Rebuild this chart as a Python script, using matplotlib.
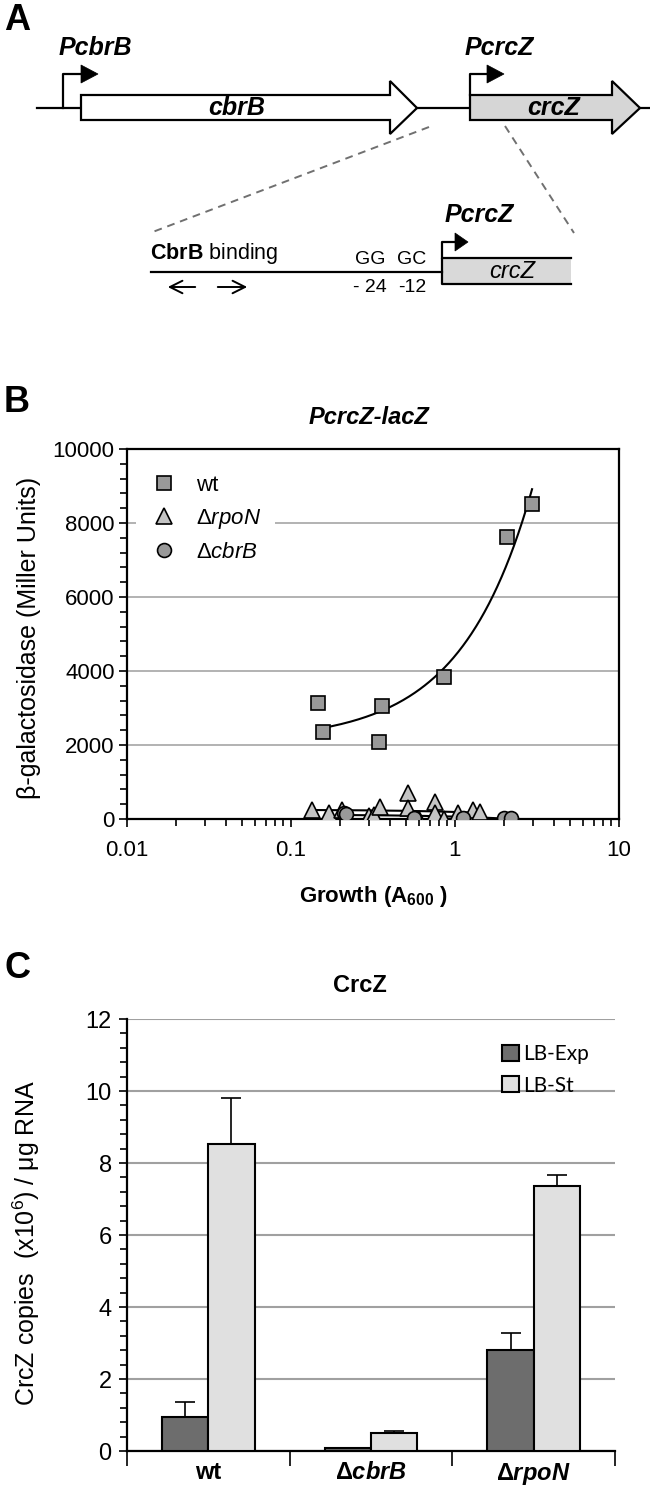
import numpy as np
import matplotlib.pyplot as plt
from matplotlib.patches import Polygon, Rectangle, FancyArrowPatch
from matplotlib.ticker import MultipleLocator, FixedLocator, NullFormatter, FixedFormatter

plt.rcParams['font.family'] = ['Liberation Sans', 'DejaVu Sans']
plt.rcParams['mathtext.fontset'] = 'custom'
plt.rcParams['mathtext.rm'] = 'Liberation Sans'
plt.rcParams['mathtext.it'] = 'Liberation Sans:italic'
plt.rcParams['mathtext.bf'] = 'Liberation Sans:bold'
plt.rcParams['mathtext.bfit'] = 'Liberation Sans:italic:bold'

# ---- panel B data (growth A600 vs beta-galactosidase)
wt_x = [0.146, 0.157, 0.361, 0.344, 0.857, 2.07, 2.95]
wt_y = [3135, 2350, 3054, 2081, 3838, 7622, 8514]
rpoN_x = [0.134, 0.17, 0.205, 0.30, 0.32, 0.35, 0.52, 0.52, 0.60, 0.76, 0.76, 0.86, 1.04, 1.22, 1.28, 1.42]
rpoN_y = [240, 150, 250, 70, 100, 320, 700, 300, 10, 460, 150, 10, 170, 10, 240, 200]
cbrB_x = [0.21, 0.215, 0.56, 1.12, 2.0, 2.2]
cbrB_y = [150, 140, 20, 20, 20, 20]

# ---- panel C data (CrcZ copies x10^6 / ug RNA)
strains = ['wt', r'$\mathbf{\Delta}\mathbfit{cbrB}$', r'$\mathbf{\Delta}\mathbfit{rpoN}$']
exp_vals = [0.94, 0.08, 2.80]
exp_err = [0.42, 0.0, 0.48]
st_vals = [8.53, 0.50, 7.35]
st_err = [1.27, 0.05, 0.32]

W, H = 650, 1500
fig = plt.figure(figsize=(6.5, 15), dpi=100)


def box(l, t, r, b):
    return [l / W, 1 - b / H, (r - l) / W, (b - t) / H]


def fxy(x, y):
    return x / W, 1 - y / H


# ================= Panel A: gene diagram (pixel coords)
ax_a = fig.add_axes(box(0, 0, 650, 330))
ax_a.set_xlim(0, 650)
ax_a.set_ylim(330, 0)
ax_a.axis('off')

lw_a = 1.6
ax_a.plot([37, 650], [108, 108], color='black', lw=lw_a, zorder=1)
ax_a.add_patch(Polygon([(81, 95), (390, 95), (390, 81), (417, 108), (390, 134), (390, 120), (81, 120)],
                       closed=True, facecolor='white', edgecolor='black', lw=lw_a, zorder=2))
ax_a.add_patch(Polygon([(470, 95), (612, 95), (612, 81), (640, 108), (612, 134), (612, 120), (470, 120)],
                       closed=True, facecolor='#d6d6d6', edgecolor='black', lw=lw_a, zorder=2))


def promoter(x, y0, y1, x1, hl, hh):
    ax_a.plot([x, x, x1], [y0, y1, y1], color='black', lw=lw_a, zorder=3)
    ax_a.add_patch(Polygon([(x1, y1 - hh), (x1 + hl, y1), (x1, y1 + hh)], closed=True,
                           facecolor='black', edgecolor='black', lw=0.5, zorder=3))


promoter(63, 108, 74, 81, 17, 9)
promoter(470, 95, 74, 487, 17, 9)

ax_a.text(95, 48, 'PcbrB', fontsize=18, fontweight='bold', style='italic', ha='center', va='center')
ax_a.text(499, 48, 'PcrcZ', fontsize=18, fontweight='bold', style='italic', ha='center', va='center')
ax_a.text(237, 108, 'cbrB', fontsize=18, fontweight='bold', style='italic', ha='center', va='center', zorder=4)
ax_a.text(554, 108, 'crcZ', fontsize=18, fontweight='bold', style='italic', ha='center', va='center', zorder=4)

ax_a.plot([429, 150], [127, 233], color='#707070', lw=1.4, ls=(0, (4, 3)))
ax_a.plot([505, 574], [126, 233], color='#707070', lw=1.4, ls=(0, (4, 3)))

# zoomed promoter region
ax_a.plot([151, 442], [272, 272], color='black', lw=lw_a)
ax_a.add_patch(Rectangle((442, 258), 129, 26, facecolor='#d9d9d9', edgecolor='none'))
ax_a.plot([571, 442, 442, 571], [258, 258, 284, 284], color='black', lw=lw_a)
promoter(442, 258, 242, 455, 13, 9)
ax_a.text(512, 272, 'crcZ', fontsize=17, style='italic', ha='center', va='center')
ax_a.text(479, 215, 'PcrcZ', fontsize=18, fontweight='bold', style='italic', ha='center', va='center')
ax_a.text(150, 253, r'$\mathbf{CbrB}$ binding', fontsize=15.5, ha='left', va='center')
ax_a.text(370, 260, 'GG', fontsize=14, ha='center', va='center')
ax_a.text(412, 260, 'GC', fontsize=14, ha='center', va='center')
ax_a.text(370, 288, '- 24', fontsize=14, ha='center', va='center')
ax_a.text(412, 288, '-12', fontsize=14, ha='center', va='center')
for x0, x1 in [(198, 165), (215, 250)]:
    ax_a.add_patch(FancyArrowPatch((x0, 287), (x1, 287), arrowstyle='->,head_length=6,head_width=3',
                                   color='black', lw=1.4, mutation_scale=1.5))

# panel letters
for lab, y in [('A', 20), ('B', 402), ('C', 968)]:
    fig.text(*fxy(4, y), lab, fontsize=26, fontweight='bold', ha='left', va='center')

# ================= Panel B
ax_b = fig.add_axes(box(127, 449, 619, 819))
ax_b.set_xscale('log')
ax_b.set_xlim(0.01, 10)
ax_b.set_ylim(0, 10000)
ax_b.yaxis.set_major_locator(MultipleLocator(2000))
ax_b.yaxis.set_minor_locator(MultipleLocator(400))
ax_b.xaxis.set_major_locator(FixedLocator([0.01, 0.1, 1, 10]))
ax_b.xaxis.set_major_formatter(FixedFormatter(['0.01', '0.1', '1', '10']))
ax_b.grid(axis='y', which='major', color='#a6a6a6', lw=1.2)
ax_b.set_axisbelow(True)
for s in ax_b.spines.values():
    s.set_linewidth(1.6)
ax_b.tick_params(which='both', direction='out', width=1.2, labelsize=16)
ax_b.tick_params(which='major', length=6, pad=3)
ax_b.tick_params(which='minor', length=5)
ax_b.tick_params(axis='x', which='major', pad=9)

# linear trend lines (shown curved on the log axis)
for xs, ys in [(rpoN_x, rpoN_y), (cbrB_x, cbrB_y), (wt_x, wt_y)]:
    b, a = np.polyfit(xs, ys, 1)
    xx = np.linspace(min(xs), max(xs), 200)
    ax_b.plot(xx, a + b * xx, color='black', lw=1.5, zorder=2)

ax_b.plot(rpoN_x, rpoN_y, '^', ms=11, mfc='#c4c4c4', mec='black', mew=1.2, ls='none', zorder=3,
          label=r'$\Delta\mathit{rpoN}$')
ax_b.plot(cbrB_x, cbrB_y, 'o', ms=10, mfc='#999999', mec='black', mew=1.2, ls='none', zorder=3,
          label=r'$\Delta\mathit{cbrB}$')
ax_b.plot(wt_x, wt_y, 's', ms=10, mfc='#999999', mec='black', mew=1.2, ls='none', zorder=4, label='wt')
hb, lb = ax_b.get_legend_handles_labels()
order = [2, 0, 1]
leg = ax_b.legend([hb[i] for i in order], [lb[i] for i in order], loc='upper left',
                  bbox_to_anchor=(0.005, 0.985), fontsize=16, frameon=True, fancybox=False,
                  edgecolor='none', facecolor='white', framealpha=1, handlelength=1.3,
                  handletextpad=0.8, labelspacing=0.5, borderpad=0.6, borderaxespad=0.3)

fig.text(*fxy(369, 418), 'PcrcZ-lacZ', fontsize=17, fontweight='bold', style='italic', ha='center', va='center')
ax_b.set_xlabel(r'Growth (A$_{\mathbf{600}}$ )', fontsize=16, fontweight='bold')
ax_b.xaxis.set_label_coords(0.5, -0.175)
ax_b.set_ylabel('β-galactosidase (Miller Units)', fontsize=18)
ax_b.yaxis.set_label_coords(-0.175, 0.49)

# ================= Panel C
ax_c = fig.add_axes(box(127, 1019, 615, 1451))
xpos = np.arange(len(strains))
w = 0.284
err_kw = dict(elinewidth=1.2, capthick=1.2, ecolor='black')
ax_c.bar(xpos - w / 2, exp_vals, w, yerr=[np.zeros(3), exp_err], color='#6d6d6d', edgecolor='black',
         lw=1.5, capsize=7, error_kw=err_kw, label='LB-Exp', zorder=3)
ax_c.bar(xpos + w / 2, st_vals, w, yerr=[np.zeros(3), st_err], color='#e0e0e0', edgecolor='black',
         lw=1.5, capsize=7, error_kw=err_kw, label='LB-St', zorder=3)
ax_c.set_xlim(-0.5, 2.5)
ax_c.set_ylim(0, 12)
ax_c.yaxis.set_major_locator(MultipleLocator(2))
ax_c.yaxis.set_minor_locator(MultipleLocator(0.4))
ax_c.grid(axis='y', which='major', color='#a0a0a0', lw=1.5)
ax_c.set_axisbelow(True)
ax_c.spines['top'].set_visible(False)
ax_c.spines['right'].set_visible(False)
ax_c.spines['left'].set_linewidth(1.6)
ax_c.spines['bottom'].set_linewidth(1.6)
ax_c.set_xticks(xpos)
ax_c.set_xticklabels(strains, fontsize=17, fontweight='bold')
ax_c.xaxis.set_minor_locator(FixedLocator([-0.5, 0.5, 1.5, 2.5]))
ax_c.xaxis.set_minor_formatter(NullFormatter())
ax_c.tick_params(axis='x', which='major', length=0, pad=7)
ax_c.tick_params(axis='x', which='minor', length=11, width=1.2, direction='out')
ax_c.tick_params(axis='y', which='both', direction='out', width=1.2, labelsize=17)
ax_c.tick_params(axis='y', which='major', length=6, pad=5)
ax_c.tick_params(axis='y', which='minor', length=5)
ax_c.set_ylabel('CrcZ copies  (x10$^6$) / μg RNA', fontsize=18)
ax_c.yaxis.set_label_coords(-0.175, 0.48)
fig.text(*fxy(360, 986), 'CrcZ', fontsize=17, fontweight='bold', ha='center', va='center')
ax_c.legend(loc='upper right', bbox_to_anchor=(0.985, 0.985), prop={'family': 'Lato', 'size': 15},
            frameon=False, handlelength=0.8, handleheight=0.8, handletextpad=0.2, labelspacing=0.55)

fig.savefig('out.png', dpi=100)
